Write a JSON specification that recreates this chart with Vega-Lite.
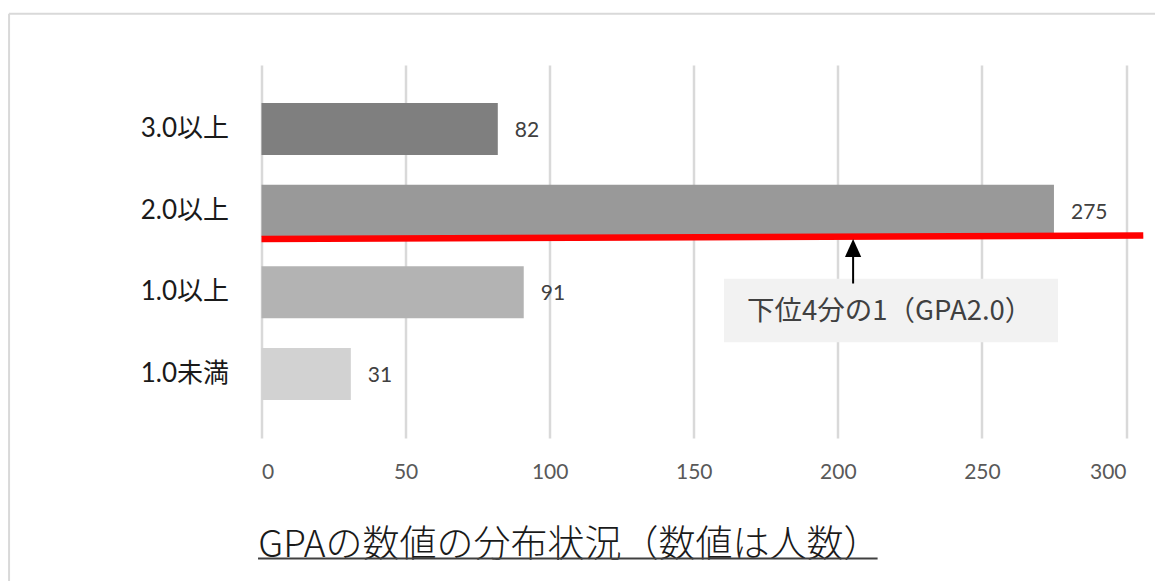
{
  "$schema": "https://vega.github.io/schema/vega-lite/v6.json",
  "width": 864.5,
  "height": 373,
  "autosize": {"type": "none"},
  "padding": {"left": 261.5, "top": 65, "right": 29, "bottom": 143},
  "background": "white",
  "config": {"view": {"stroke": null}},
  "data": {
    "values": [
      {"grade": "3.0以上", "count": 82},
      {"grade": "2.0以上", "count": 275},
      {"grade": "1.0以上", "count": 91},
      {"grade": "1.0未満", "count": 31}
    ]
  },
  "layer": [
    {
      "mark": {"type": "bar"},
      "encoding": {
        "y": {
          "field": "grade",
          "type": "nominal",
          "sort": null,
          "scale": {
            "domain": ["3.0以上", "2.0以上", "1.0以上", "1.0未満"],
            "paddingInner": 0.3635,
            "paddingOuter": 0.465
          },
          "axis": {
            "title": null,
            "domain": false,
            "ticks": false,
            "labelFont": "Lato, 'Noto Sans CJK JP'",
            "labelFontSize": 26,
            "labelColor": "#1a1a1a",
            "labelPadding": 33
          }
        },
        "x": {
          "field": "count",
          "type": "quantitative",
          "scale": {"domain": [0, 300], "nice": false},
          "axis": {
            "title": null,
            "values": [0, 50, 100, 150, 200, 250, 300],
            "grid": true,
            "gridColor": "#d9d9d9",
            "gridWidth": 2.5,
            "domain": false,
            "ticks": false,
            "labelFont": "Lato",
            "labelFontSize": 21,
            "labelColor": "#595959",
            "labelPadding": 23
          }
        },
        "color": {
          "field": "grade",
          "type": "nominal",
          "scale": {
            "domain": ["3.0以上", "2.0以上", "1.0以上", "1.0未満"],
            "range": ["#7f7f7f", "#999999", "#b3b3b3", "#d2d2d2"]
          },
          "legend": null
        }
      }
    },
    {
      "mark": {"type": "text", "align": "left", "baseline": "middle", "dx": 17, "dy": 2, "font": "Lato", "fontSize": 21, "color": "#404040"},
      "encoding": {
        "y": {"field": "grade", "type": "nominal"},
        "x": {"field": "count", "type": "quantitative"},
        "text": {"field": "count", "type": "quantitative"}
      }
    },
    {
      "data": {"values": [{"note": "下位4分の1（GPA2.0）", "title": "GPAの数値の分布状況（数値は人数）"}]},
      "layer": [
        {
          "mark": {"type": "rule", "color": "#d9d9d9", "strokeWidth": 2},
          "encoding": {
            "x": {"datum": -87.6, "type": "quantitative"},
            "x2": {"datum": 320},
            "y": {"datum": "3.0以上", "type": "nominal", "bandPosition": -1.717}
          }
        },
        {
          "mark": {"type": "rule", "color": "#d9d9d9", "strokeWidth": 2},
          "encoding": {
            "x": {"datum": -87.6, "type": "quantitative"},
            "y": {"datum": "3.0以上", "type": "nominal", "bandPosition": -1.717},
            "y2": {"datum": "1.0未満", "bandPosition": 5}
          }
        },
        {
          "mark": {"type": "rect", "color": "#f2f2f2"},
          "encoding": {
            "x": {"datum": 160.5, "type": "quantitative"},
            "x2": {"datum": 276.4},
            "y": {"datum": "1.0以上", "type": "nominal", "bandPosition": 0.24},
            "y2": {"datum": "1.0以上", "bandPosition": 1.46}
          }
        },
        {
          "mark": {"type": "rule", "color": "#ff0000", "strokeWidth": 6.5},
          "encoding": {
            "x": {"datum": 0, "type": "quantitative"},
            "x2": {"datum": 306},
            "y": {"datum": "2.0以上", "type": "nominal", "bandPosition": 1.047},
            "y2": {"datum": "2.0以上", "bandPosition": 0.98}
          }
        },
        {
          "mark": {"type": "rule", "color": "#000000", "strokeWidth": 2},
          "encoding": {
            "x": {"datum": 205.3, "type": "quantitative"},
            "y": {"datum": "2.0以上", "type": "nominal", "bandPosition": 1.29},
            "y2": {"datum": "1.0以上", "bandPosition": 0.33}
          }
        },
        {
          "mark": {"type": "point", "shape": "M0,-1L-0.9,1L0.9,1Z", "size": 324, "filled": true, "color": "#000000", "opacity": 1, "strokeWidth": 0},
          "encoding": {
            "x": {"datum": 205.3, "type": "quantitative"},
            "y": {"datum": "2.0以上", "type": "nominal", "bandPosition": 1.217}
          }
        },
        {
          "mark": {"type": "text", "align": "center", "baseline": "middle", "font": "Noto Sans CJK JP", "fontSize": 27.5, "color": "#404040"},
          "encoding": {
            "x": {"datum": 218, "type": "quantitative"},
            "y": {"datum": "1.0以上", "type": "nominal", "bandPosition": 0.87},
            "text": {"field": "note", "type": "nominal"}
          }
        },
        {
          "mark": {"type": "text", "align": "left", "baseline": "alphabetic", "font": "Noto Sans CJK JP", "fontSize": 37, "fontWeight": 300, "color": "#1a1a1a"},
          "encoding": {
            "x": {"datum": -1.1, "type": "quantitative"},
            "y": {"datum": "1.0未満", "type": "nominal", "bandPosition": 4.012},
            "text": {"field": "title", "type": "nominal"}
          }
        },
        {
          "mark": {"type": "rule", "color": "#404040", "strokeWidth": 2},
          "encoding": {
            "x": {"datum": -1.2, "type": "quantitative"},
            "x2": {"datum": 213.8},
            "y": {"datum": "1.0未満", "type": "nominal", "bandPosition": 4.046}
          }
        }
      ]
    }
  ]
}
